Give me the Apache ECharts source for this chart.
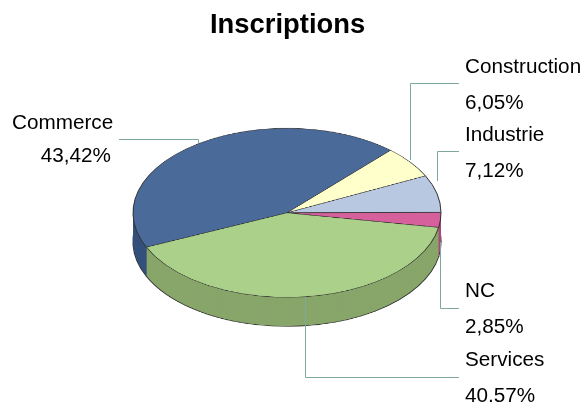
<!DOCTYPE html>
<html><head><meta charset="utf-8">
<script src="https://cdn.jsdelivr.net/npm/echarts@6/dist/echarts.min.js"></script>
<style>
html,body{margin:0;padding:0;background:#fff;width:587px;height:402px;overflow:hidden;}
#pie{position:absolute;left:0;top:102.7px;width:587px;height:420px;transform:scaleY(0.549);transform-origin:0 0;}
#over{position:absolute;left:0;top:0;width:587px;height:402px;}
</style></head>
<body>
<div id="pie"></div>
<div id="over"></div>
<script>
const categories = ['Commerce', 'Construction', 'Industrie', 'NC', 'Services'];
const values = [43.42, 6.05, 7.12, 2.85, 40.57];
const pctLabels = ['43,42%', '6,05%', '7,12%', '2,85%', '40,57%'];
const topColors = ['#4A6A9A', '#FFFFCC', '#B8C8E0', '#D6609C', '#AAD08A'];
const sideColors = ['#34507C', '#CCCC99', '#8E9CB4', '#A84A7A', '#88A66A'];

const pieChart = echarts.init(document.getElementById('pie'));
const series = [];
const depth = 52.8; // unscaled px
const step = 1.6;
let z = 1;
for (let off = depth; off > 0; off -= step) {
  const isBottom = off === depth;
  series.push({
    type: 'pie', radius: 154, center: [287, 200 + off], startAngle: 204, clockwise: true,
    silent: true, animation: false, z: z++, label: {show: false}, labelLine: {show: false},
    itemStyle: {borderWidth: isBottom ? 1.2 : 0, borderColor: '#333'},
    data: categories.map((c, i) => ({name: c, value: values[i], itemStyle: {color: sideColors[i]}}))
  });
}
series.push({
  type: 'pie', radius: 154, center: [287, 200], startAngle: 204, clockwise: true,
  silent: true, animation: false, z: z++, label: {show: false}, labelLine: {show: false},
  itemStyle: {borderWidth: 1, borderColor: '#333'},
  data: categories.map((c, i) => ({name: c, value: values[i], itemStyle: {color: topColors[i]}}))
});
pieChart.setOption({animation: false, series: series});

const over = echarts.init(document.getElementById('over'));
const lineColor = '#7FA89E';
const font = '20.7px "Liberation Sans", Arial, sans-serif';
function txt(t, x, y, align) {
  return {type: 'text', style: {text: t, x: x, y: y, font: font, fill: '#000', align: align || 'left', verticalAlign: 'middle'}};
}
function pl(points) {
  return {type: 'polyline', shape: {points: points}, style: {stroke: lineColor, lineWidth: 1, fill: null}};
}
over.setOption({
  animation: false,
  title: {text: 'Inscriptions', left: 205, top: 7,
    textStyle: {fontFamily: '"Liberation Sans", Arial, sans-serif', fontWeight: 'bold', fontSize: 27.4, color: '#000'}},
  graphic: [
    pl([[119, 139.5], [198.5, 139.5], [198.5, 143]]),
    pl([[459, 83.5], [410.5, 83.5], [410.5, 160]]),
    pl([[459, 151.5], [437.5, 151.5], [437.5, 181]]),
    pl([[440.5, 242], [440.5, 308.5], [459, 308.5]]),
    pl([[305.5, 297], [305.5, 377.5], [459, 377.5]]),
    txt(categories[0], 12, 123),
    txt(pctLabels[0], 111, 156, 'right'),
    txt(categories[1], 465, 67),
    txt(pctLabels[1], 465, 103),
    txt(categories[2], 465, 135.5),
    txt(pctLabels[2], 465, 171),
    txt(categories[3], 465, 291),
    txt(pctLabels[3], 465, 327),
    txt(categories[4], 465, 360.5),
    txt(pctLabels[4], 465, 396)
  ]
});
</script>
</body></html>
